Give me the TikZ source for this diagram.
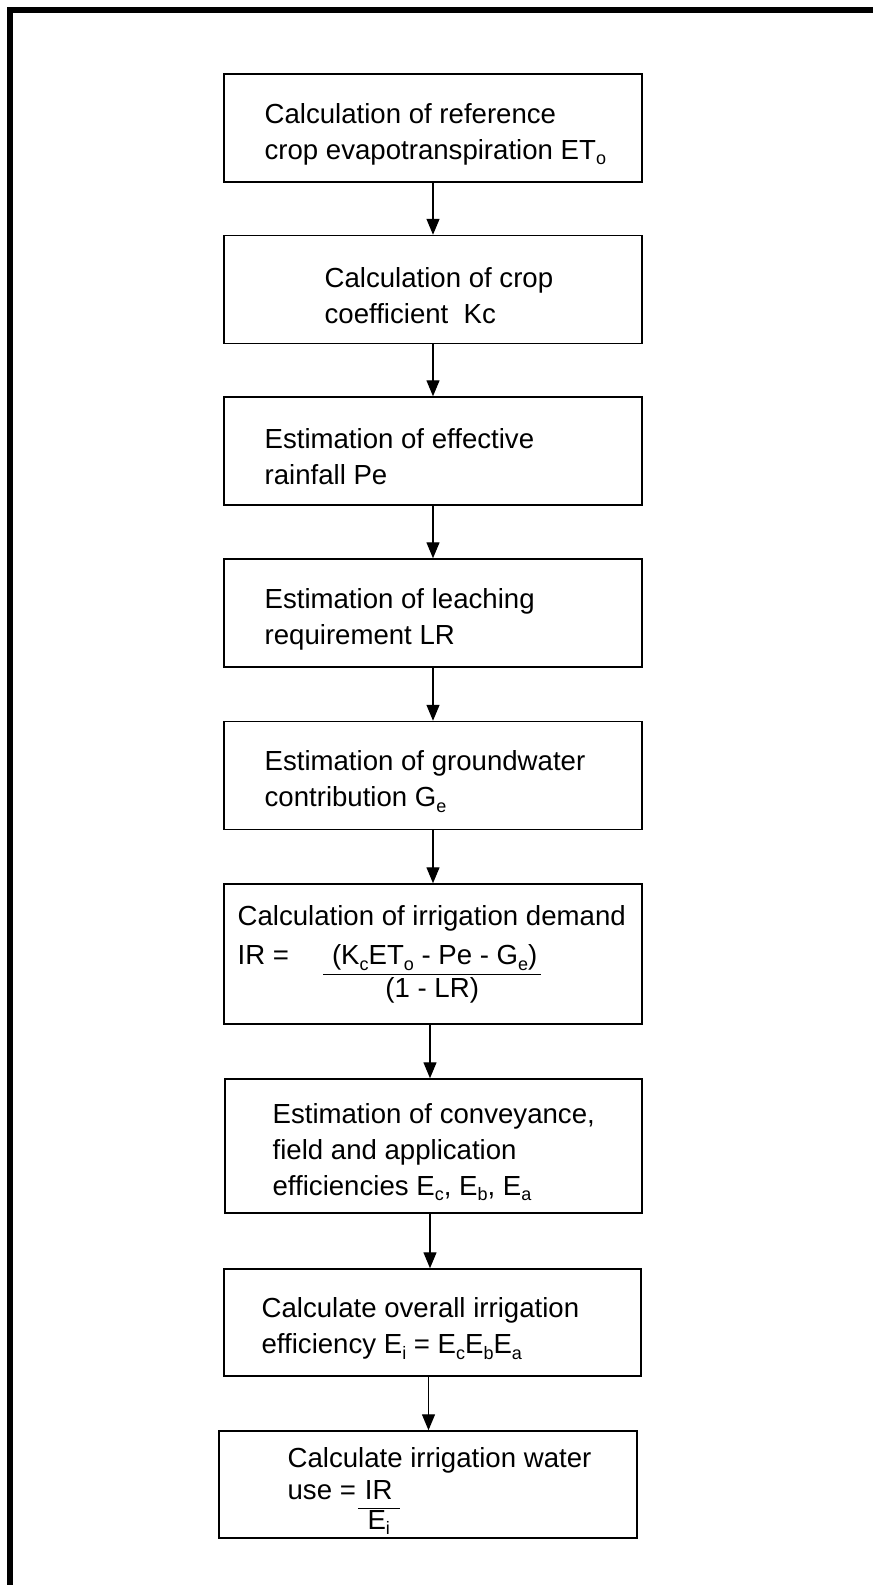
\documentclass[tikz,border=0pt]{standalone}
\usepackage{fontspec}
\setmainfont{Liberation Sans}
\usetikzlibrary{arrows.meta}
\newcommand\stepfont{\fontsize{13.8pt}{18pt}\selectfont}
\newcommand\lowsub[1]{\raisebox{-2.8pt}{\fontsize{9pt}{9pt}\selectfont #1}}

\begin{document}
\begin{tikzpicture}[x=0.5pt, y=-0.5pt,
      stepbox/.style={draw, line width=0.75pt, minimum width=209pt, minimum height=54pt, inner sep=0pt},
      steptext/.style={anchor=west, align=left, inner sep=0pt, yshift=-3pt, font=\stepfont},
      arrow/.style={-{Triangle[length=8pt, width=6.5pt]}, line width=0.7pt}
    ]
      \useasboundingbox (0,0) rectangle (873,1585);
      % frame, top and left only
      \draw[line width=3pt] (9.5,1585) -- (9.5,9.5) -- (873,9.5);

      \node[stepbox] (b1) at (433,128) {};
      \node[stepbox] (b2) at (433,289.5) {};
      \node[stepbox] (b3) at (433,451) {};
      \node[stepbox] (b4) at (433,613) {};
      \node[stepbox] (b5) at (433,775.5) {};
      \node[stepbox, minimum height=70pt] (b6) at (433,954) {};
      \node[stepbox, minimum width=208.5pt, minimum height=67pt] (b7) at (433.5,1146) {};
      \node[stepbox, minimum width=208.5pt, minimum height=53.5pt] (b8) at (432.5,1322.5) {};
      \node[stepbox, minimum height=53.5pt] (b9) at (428,1484.5) {};

      \node[steptext] (t1) at ([xshift=20.5pt]b1.west) {Calculation of reference\\crop evapotranspiration ET\lowsub{o}};
      \node[steptext] (t2) at ([xshift=50.5pt]b2.west) {Calculation of crop\\coefficient~~Kc};
      \node[steptext] (t3) at ([xshift=20.5pt]b3.west) {Estimation of effective\\rainfall Pe};
      \node[steptext] (t4) at ([xshift=20.5pt]b4.west) {Estimation of leaching\\requirement LR};
      \node[steptext] (t5) at ([xshift=20.5pt]b5.west) {Estimation of groundwater\\contribution G\lowsub{e}};
      \node[steptext, yshift=1.5pt] (t6) at ([xshift=7pt]b6.west) {Calculation of irrigation demand\\[1.5pt]
        IR =\hspace{17pt}\begin{tabular}[t]{@{}c@{}}\underline{\rule[-3.3pt]{0pt}{3.3pt}\hspace{4.5pt}\smash{(K\lowsub{c}ET\lowsub{o} - Pe - G\lowsub{e})}\hspace{2pt}}\\[-1.5pt](1 - LR)\end{tabular}};
      \node[steptext] (t7) at ([xshift=24pt]b7.west) {Estimation of conveyance,\\field and application\\efficiencies E\lowsub{c}, E\lowsub{b}, E\lowsub{a}};
      \node[steptext] (t8) at ([xshift=19pt]b8.west) {Calculate overall irrigation\\efficiency E\lowsub{i} = E\lowsub{c}E\lowsub{b}E\lowsub{a}};
      \node[steptext, yshift=-1.5pt] (t9) at ([xshift=34.5pt]b9.west) {Calculate irrigation water\\[-2pt]
        use =\hspace{1pt}\begin{tabular}[t]{@{}c@{}}\underline{\rule[-3pt]{0pt}{3pt}\hspace{3.5pt}\smash{IR}\hspace{3.5pt}}\\[-3pt]E\lowsub{i}\end{tabular}};

      \draw[arrow] (b2.north |- b1.south) -- (b2.north);
      \draw[arrow] (b3.north |- b2.south) -- (b3.north);
      \draw[arrow] (b4.north |- b3.south) -- (b4.north);
      \draw[arrow] (b5.north |- b4.south) -- (b5.north);
      \draw[arrow] (b6.north |- b5.south) -- (b6.north);
      \draw[arrow] ([xshift=-1.75pt]b7.north |- b6.south) -- ([xshift=-1.75pt]b7.north);
      \draw[arrow] ([xshift=-1.25pt]b8.north |- b7.south) -- ([xshift=-1.25pt]b8.north);
      \draw[arrow] ([xshift=0.25pt]b9.north |- b8.south) -- ([xshift=0.25pt]b9.north);
    \end{tikzpicture}
\end{document}
